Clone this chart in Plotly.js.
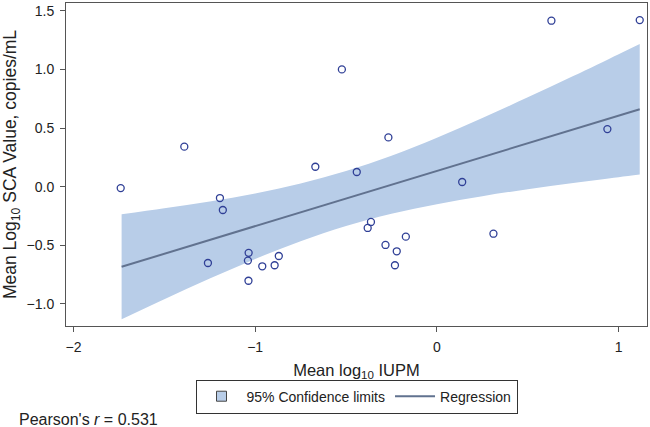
<!DOCTYPE html>
<html>
<head>
<meta charset="utf-8">
<script src="https://cdn.plot.ly/plotly-3.0.1.min.js"></script>
<style>
html,body{margin:0;padding:0;background:#fff;}
#chart{width:650px;height:427px;}
</style>
</head>
<body>
<div id="chart"></div>
<script>
// Observed points (mean log10 IUPM vs mean log10 SCA value)
var iupm = [-1.740, -1.390, -1.194, -1.178, -1.260, -1.036, -1.040, -1.037, -0.961, -0.893,
            -0.870, -0.669, -0.523, -0.441, -0.381, -0.363, -0.267, -0.283, -0.221, -0.231,
            -0.171, 0.139, 0.311, 0.630, 0.938, 1.116];
var sca  = [-0.012, 0.341, -0.097, -0.199, -0.651, -0.564, -0.630, -0.802, -0.679, -0.670,
            -0.591, 0.170, 1.000, 0.125, -0.352, -0.301, 0.420, -0.497, -0.551, -0.670,
            -0.426, 0.040, -0.401, 1.415, 0.491, 1.420];

// Regression line and 95% confidence limits
var fitX   = [-1.735, -1.5, -1.25, -1.0, -0.75, -0.5, -0.25, 0.0, 0.25, 0.5, 0.75, 1.0, 1.116];
var fitY   = [-0.683, -0.572, -0.455, -0.337, -0.219, -0.101, 0.016, 0.134, 0.252, 0.370, 0.487, 0.605, 0.660];
var upperY = [-0.236, -0.185, -0.127, -0.058, 0.027, 0.133, 0.263, 0.417, 0.585, 0.762, 0.943, 1.130, 1.217];
var lowerY = [-1.130, -0.959, -0.783, -0.616, -0.465, -0.335, -0.231, -0.149, -0.081, -0.022, 0.031, 0.081, 0.103];

var xTicks = [-2, -1, 0, 1];
var xTickText = ['\u22122', '\u22121', '0', '1'];
var yTicks = [-1.0, -0.5, 0.0, 0.5, 1.0, 1.5];

var bandColor = '#b8cde8';
var lineColor = '#61728f';
var markColor = '#2f3f96';
var FONT = 'Liberation Sans, Arial, Helvetica, sans-serif';

var traces = [
  {x: fitX, y: lowerY, mode: 'lines', line: {width: 0, shape: 'spline'}, showlegend: false, hoverinfo: 'skip'},
  {x: fitX, y: upperY, mode: 'lines', line: {width: 0, shape: 'spline'}, fill: 'tonexty',
   fillcolor: bandColor, showlegend: false, hoverinfo: 'skip'},
  {x: [null], y: [null], mode: 'markers', name: '95% Confidence limits',
   marker: {symbol: 'square', size: 10, color: bandColor, line: {color: '#444', width: 1}}},
  {x: fitX, y: fitY, mode: 'lines', name: 'Regression', line: {color: lineColor, width: 2}},
  {x: iupm, y: sca, mode: 'markers', showlegend: false,
   marker: {symbol: 'circle-open', size: 7, color: markColor, line: {color: markColor, width: 1.3}}}
];

var layout = {
  width: 650, height: 427,
  margin: {l: 66, r: 3, t: 3, b: 101},
  paper_bgcolor: '#fff', plot_bgcolor: '#fff',
  font: {family: FONT, size: 14, color: '#222'},
  showlegend: true,
  legend: {orientation: 'h', x: 0.5, xanchor: 'center', y: -0.166, yanchor: 'top',
           bordercolor: '#333', borderwidth: 1, font: {size: 14, color: '#222'},
           bgcolor: '#fff', traceorder: 'normal', itemwidth: 40},
  xaxis: {
    range: [-2.041, 1.156], tickvals: xTicks, ticktext: xTickText,
    ticks: 'outside', ticklen: 5, tickcolor: '#555', showgrid: false, zeroline: false,
    showline: true, linecolor: '#555', linewidth: 1, mirror: true,
    tickfont: {size: 14}, ticklabelstandoff: 3,
    title: {text: 'Mean log<sub>10</sub> IUPM', font: {size: 16.5}, standoff: 10}
  },
  yaxis: {
    range: [-1.188, 1.566], tickvals: yTicks, tickformat: '.1f',
    ticks: 'outside', ticklen: 5, tickcolor: '#555', showgrid: false, zeroline: false,
    showline: true, linecolor: '#555', linewidth: 1, mirror: true,
    tickfont: {size: 14}, ticklabelstandoff: 3,
    title: {text: 'Mean Log<sub>10</sub> SCA Value, copies/mL', font: {size: 17.5}, standoff: 5}
  },
  annotations: [
    {xref: 'paper', yref: 'paper', x: -0.085, y: -0.291, xanchor: 'left', yanchor: 'middle',
     showarrow: false, text: "Pearson's <i>r</i> = 0.531", font: {size: 16, color: '#222'}}
  ]
};

Plotly.newPlot('chart', traces, layout, {staticPlot: true, displayModeBar: false});
</script>
</body>
</html>
